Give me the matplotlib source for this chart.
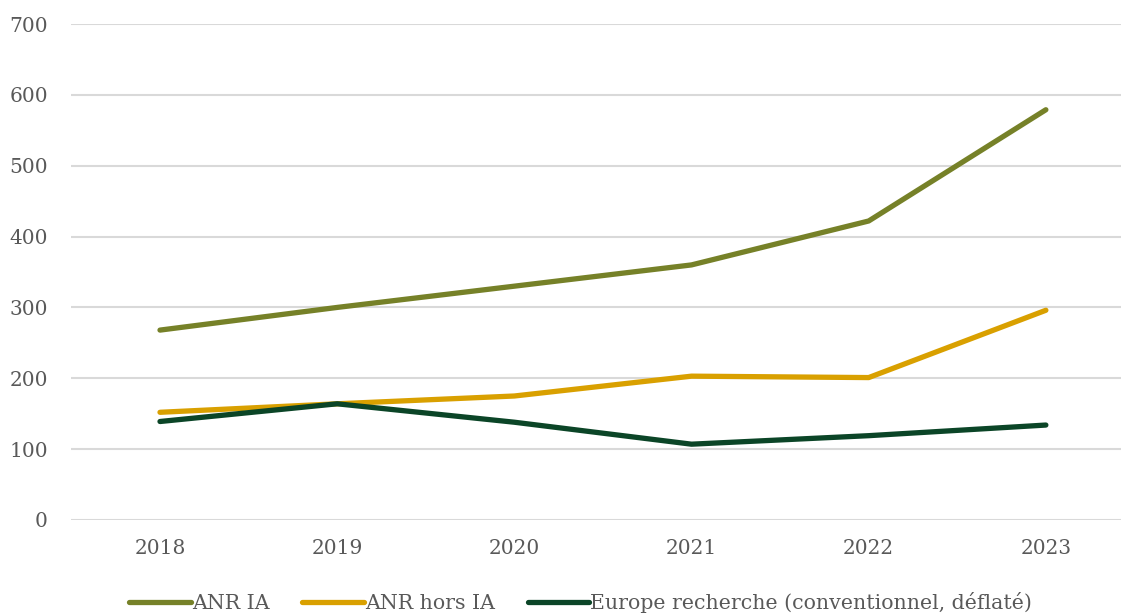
import matplotlib.pyplot as plt

years = ["2018", "2019", "2020", "2021", "2022", "2023"]
anr_ia = [268, 300, 330, 360, 422, 579]
anr_hors_ia = [152, 164, 175, 203, 201, 296]
europe = [139, 164, 138, 107, 119, 134]

labels = ["ANR IA", "ANR hors IA", "Europe recherche (conventionnel, déflaté)"]
colors = ["#768128", "#D9A000", "#0B4527"]

plt.rcParams["font.family"] = ["DejaVu Serif"]

fig = plt.figure(figsize=(11.21, 6.14), dpi=100)
ax = fig.add_axes([0.0637, 0.1531, 0.9483, 0.8078])

x = range(len(years))
for vals, lab, col in zip([anr_ia, anr_hors_ia, europe], labels, colors):
    ax.plot(x, vals, color=col, linewidth=3.8, label=lab, solid_capstyle="round")

ax.set_xlim(-0.5, len(years) - 0.5)
ax.set_ylim(0, 700)
ax.set_yticks(range(0, 701, 100))
ax.set_xticks(list(x))
ax.set_xticklabels(years)
ax.grid(axis="y", color="#D9D9D9", linewidth=1.5)
ax.set_axisbelow(True)
for s in ax.spines.values():
    s.set_visible(False)
ax.tick_params(length=0, labelsize=14.5, colors="#595959", pad=14)
ax.tick_params(axis="y", pad=17)

leg = fig.legend(loc="center", bbox_to_anchor=(0.518, 0.018), ncol=3, frameon=False,
                 fontsize=14.8, handlelength=3.0, handletextpad=0.05, columnspacing=1.6,
                 labelcolor="#595959")

fig.savefig("out.png", dpi=100)
